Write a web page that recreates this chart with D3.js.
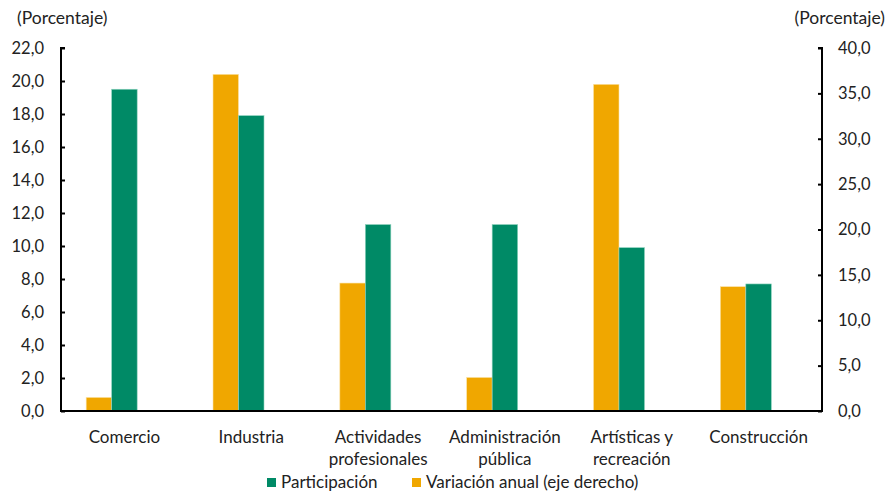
<!DOCTYPE html>
<html><head><meta charset="utf-8">
<script src="https://cdn.jsdelivr.net/npm/d3@7"></script>
<style>body{margin:0;background:#fff}svg{display:block}text{font-family:Lato,"Open Sans",sans-serif;fill:#222}</style>
</head><body>
<script>
const categories = [["Comercio"],["Industria"],["Actividades","profesionales"],["Administración","pública"],["Artísticas y","recreación"],["Construcción"]];
const participacion = [19.5, 17.9, 11.3, 11.3, 9.9, 7.7];
const variacion = [1.5, 37.1, 14.1, 3.7, 36.0, 13.7];
const leftTicks = [0,2,4,6,8,10,12,14,16,18,20,22];
const rightTicks = [0,5,10,15,20,25,30,35,40];
const seriesNames = ["Participación","Variación anual (eje derecho)"];
const colors = {green:"#008A66", orange:"#F0A700"};

const W=886,H=493, x0=61, x1=822, yTop=48, yBot=411;
const svg=d3.select("body").append("svg").attr("width",W).attr("height",H);
const fmt=v=>d3.format(".1f")(v).replace(".",",");
const x=d3.scaleBand().domain(d3.range(categories.length)).range([x0,x1]);
const yL=d3.scaleLinear().domain([0,22]).range([yBot,yTop]);
const yR=d3.scaleLinear().domain([0,40]).range([yBot,yTop]);
const bw=25.5;

// bars
const g=svg.append("g");
g.selectAll("rect.o").data(variacion).join("rect").attr("class","o")
 .attr("x",(d,i)=>x(i)+x.bandwidth()/2-bw*1.5).attr("width",bw)
 .attr("y",d=>yR(d)).attr("height",d=>yBot-yR(d))
 .attr("fill",colors.orange).attr("stroke","#fbe3a8").attr("stroke-width",0.6);
g.selectAll("rect.g").data(participacion).join("rect").attr("class","g")
 .attr("x",(d,i)=>x(i)+x.bandwidth()/2-bw*0.5).attr("width",bw)
 .attr("y",d=>yL(d)).attr("height",d=>yBot-yL(d))
 .attr("fill",colors.green).attr("stroke","#8fd3bf").attr("stroke-width",0.6);

// left axis
const aL=svg.append("g").attr("transform",`translate(${x0},0)`)
 .call(d3.axisRight(yL).tickValues(leftTicks).tickSize(4).tickFormat(""));
aL.select(".domain").attr("d",`M4,${yTop}H0V${yBot}`).attr("stroke","#000").attr("stroke-width",2);
aL.selectAll(".tick line").attr("stroke","#000").attr("stroke-width",2);
svg.append("g").selectAll("text").data(leftTicks).join("text")
 .attr("x",44).attr("y",d=>yL(d)).attr("dy","0.35em").attr("text-anchor","end")
 .attr("font-size",16.5).text(fmt);

// right axis
const aR=svg.append("g").attr("transform",`translate(${x1},0)`)
 .call(d3.axisLeft(yR).tickValues(rightTicks).tickSize(4).tickFormat(""));
aR.select(".domain").attr("d",`M-4,${yTop}H0V${yBot}`).attr("stroke","#000").attr("stroke-width",2);
aR.selectAll(".tick line").attr("stroke","#000").attr("stroke-width",2);
svg.append("g").selectAll("text").data(rightTicks).join("text")
 .attr("x",838).attr("y",d=>yR(d)).attr("dy","0.35em").attr("text-anchor","start")
 .attr("font-size",16.5).text(fmt);

// x axis
svg.append("line").attr("x1",x0-1).attr("x2",x1+1).attr("y1",yBot).attr("y2",yBot)
 .attr("stroke","#000").attr("stroke-width",2);
const lab=svg.append("g").selectAll("text").data(categories).join("text")
 .attr("text-anchor","middle").attr("font-size",17)
 .attr("transform",(d,i)=>`translate(${x(i)+x.bandwidth()/2},0)`);
lab.selectAll("tspan").data(d=>d).join("tspan").attr("x",0)
 .attr("y",(d,j)=>443+j*22).text(d=>d);

// axis titles
svg.append("text").attr("x",17).attr("y",24).attr("font-size",17.5).text("(Porcentaje)");
svg.append("text").attr("x",885).attr("y",24).attr("font-size",17.5).attr("text-anchor","end").text("(Porcentaje)");

// legend
const leg=[{n:seriesNames[0],c:colors.green,x:267},{n:seriesNames[1],c:colors.orange,x:412}];
const lg=svg.append("g").selectAll("g").data(leg).join("g").attr("transform",d=>`translate(${d.x},0)`);
lg.append("rect").attr("x",0).attr("y",478).attr("width",9).attr("height",9).attr("fill",d=>d.c);
lg.append("text").attr("x",14).attr("y",488).attr("font-size",17).text(d=>d.n);
</script>
</body></html>
